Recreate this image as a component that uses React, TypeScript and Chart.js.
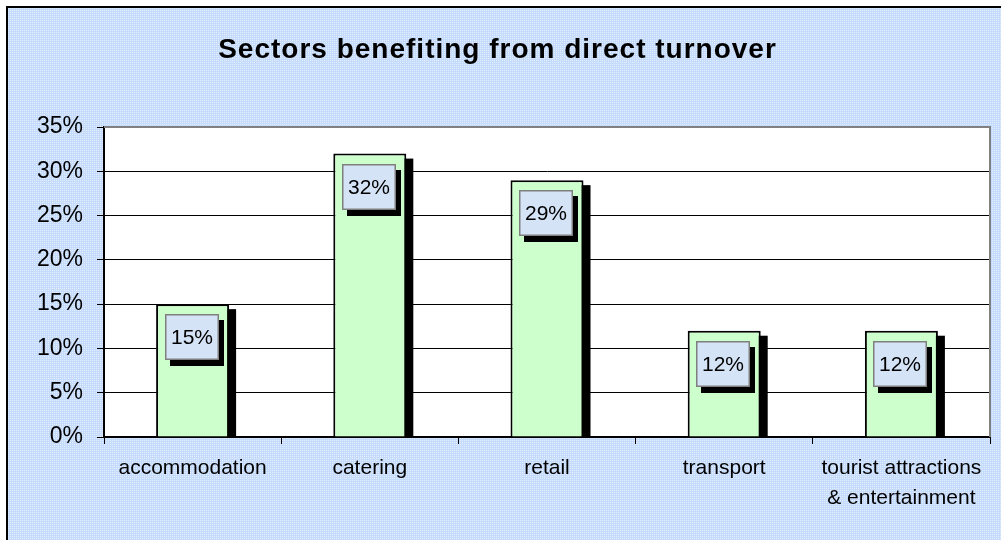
import React, { useEffect, useRef } from "react";
import { Chart, registerables } from "chart.js";

Chart.register(...registerables);

const titleText = "Sectors benefiting from direct turnover";
const categories: string[][] = [
  ["accommodation"],
  ["catering"],
  ["retail"],
  ["transport"],
  ["tourist attractions", "& entertainment"],
];
const shares: number[] = [15, 32, 29, 12, 12];
const yMin = 0;
const yMax = 35;
const yStep = 5;

const FONT = '"Liberation Sans", Arial, sans-serif';

function makePattern(ctx: CanvasRenderingContext2D) {
  const c = document.createElement("canvas");
  c.width = 2;
  c.height = 2;
  const g = c.getContext("2d")!;
  g.fillStyle = "#c4dbfc";
  g.fillRect(0, 0, 2, 2);
  g.fillStyle = "#e4eeff";
  g.fillRect(0, 0, 1, 1);
  return ctx.createPattern(c, "repeat");
}

const decorPlugin = {
  id: "decor",
  beforeDraw(chart: any) {
    const { ctx, width, height } = chart;
    ctx.save();
    ctx.fillStyle = "#fff";
    ctx.fillRect(0, 0, width, height);
    const pat = makePattern(ctx);
    if (pat) ctx.fillStyle = pat;
    ctx.fillRect(6, 6, width - 6, height - 6);
    ctx.fillStyle = "#000";
    ctx.fillRect(6, 6, 2, height - 6);
    ctx.fillRect(6, 6, width - 6, 2);
    // plot area background
    const ca = chart.chartArea;
    ctx.fillStyle = "#fff";
    ctx.fillRect(ca.left, ca.top, ca.right - ca.left, ca.bottom - ca.top);
    ctx.restore();
  },
  beforeDatasetsDraw(chart: any) {
    const { ctx, chartArea } = chart;
    const meta = chart.getDatasetMeta(0);
    ctx.save();
    ctx.beginPath();
    ctx.rect(chartArea.left, chartArea.top, chartArea.right - chartArea.left, chartArea.bottom - chartArea.top);
    ctx.clip();
    ctx.fillStyle = "#000";
    meta.data.forEach((bar: any) => {
      const p = bar.getProps(["x", "y", "base", "width"], true);
      const dx = 7;
      const dy = 5;
      ctx.fillRect(p.x - p.width / 2 + dx, p.y + dy, p.width, p.base - p.y - dy);
    });
    ctx.restore();
  },
  afterDatasetsDraw(chart: any) {
    const { ctx } = chart;
    const meta = chart.getDatasetMeta(0);
    const values = chart.data.datasets[0].data as number[];
    ctx.save();
    meta.data.forEach((bar: any, i: number) => {
      const p = bar.getProps(["x", "y"], true);
      const w = 54;
      const h = 46;
      const left = Math.round(p.x - 1 - w / 2);
      const top = Math.round(p.y + 10);
      ctx.fillStyle = "#000";
      ctx.fillRect(left + 5, top + 6, w, h);
      ctx.fillStyle = "#d5e3f6";
      ctx.fillRect(left, top, w, h);
      ctx.strokeStyle = "#7f7f7f";
      ctx.lineWidth = 1.5;
      ctx.strokeRect(left + 0.75, top + 0.75, w - 1.5, h - 1.5);
      ctx.fillStyle = "#000";
      ctx.font = `21px ${FONT}`;
      ctx.textAlign = "center";
      ctx.textBaseline = "middle";
      ctx.fillText(`${values[i]}%`, left + w / 2, top + h / 2 + 1);
    });
    ctx.restore();
  },
  afterDraw(chart: any) {
    const { ctx, chartArea } = chart;
    ctx.save();
    ctx.strokeStyle = "#808080";
    ctx.lineWidth = 2;
    ctx.beginPath();
    ctx.moveTo(chartArea.left, chartArea.top);
    ctx.lineTo(chartArea.right, chartArea.top);
    ctx.lineTo(chartArea.right, chartArea.bottom);
    ctx.stroke();
    ctx.fillStyle = "#000";
    ctx.font = `bold 28px ${FONT}`;
    try {
      (ctx as any).letterSpacing = "1px";
    } catch (e) {}
    ctx.textAlign = "center";
    ctx.textBaseline = "alphabetic";
    ctx.fillText(titleText, 497.5, 58);
    ctx.restore();
  },
};

export default function App() {
  const ref = useRef<HTMLCanvasElement | null>(null);

  useEffect(() => {
    if (!ref.current) return;
    const chart = new Chart(ref.current, {
      type: "bar",
      data: {
        labels: categories,
        datasets: [
          {
            data: shares,
            backgroundColor: "#ccffcc",
            borderColor: "#000",
            borderWidth: 2,
            barPercentage: 0.412,
            categoryPercentage: 1,
          },
        ],
      },
      options: {
        responsive: false,
        animation: false,
        layout: { padding: { left: 0, top: 127, right: 11, bottom: 0 } },
        plugins: {
          legend: { display: false },
          tooltip: { enabled: false },
          title: { display: false },
        },
        scales: {
          x: {
            grid: { drawOnChartArea: false, color: "#000", tickLength: 7, lineWidth: 1 },
            border: { color: "#000", width: 2 },
            ticks: {
              color: "#000",
              font: { family: FONT, size: 21, lineHeight: 1.4 },
              padding: 10,
              maxRotation: 0,
              autoSkip: false,
            },
            afterFit: (s: any) => {
              s.height = 103;
            },
          },
          y: {
            min: yMin,
            max: yMax,
            grid: { color: "#000", tickLength: 7, lineWidth: 1 },
            border: { color: "#000", width: 2 },
            ticks: {
              stepSize: yStep,
              color: "#000",
              font: { family: FONT, size: 23 },
              padding: 14,
              callback: (v: any) => `${v}%`,
            },
            afterFit: (s: any) => {
              s.width = 104;
            },
          },
        },
      },
      plugins: [decorPlugin],
    });
    return () => chart.destroy();
  }, []);

  return (
    <div style={{ position: "fixed", left: 0, top: 0, width: 1001, height: 540, background: "#fff" }}>
      <canvas
        ref={ref}
        width={1001}
        height={540}
        style={{ position: "absolute", left: 0, top: 0, width: 1001, height: 540 }}
      />
    </div>
  );
}
